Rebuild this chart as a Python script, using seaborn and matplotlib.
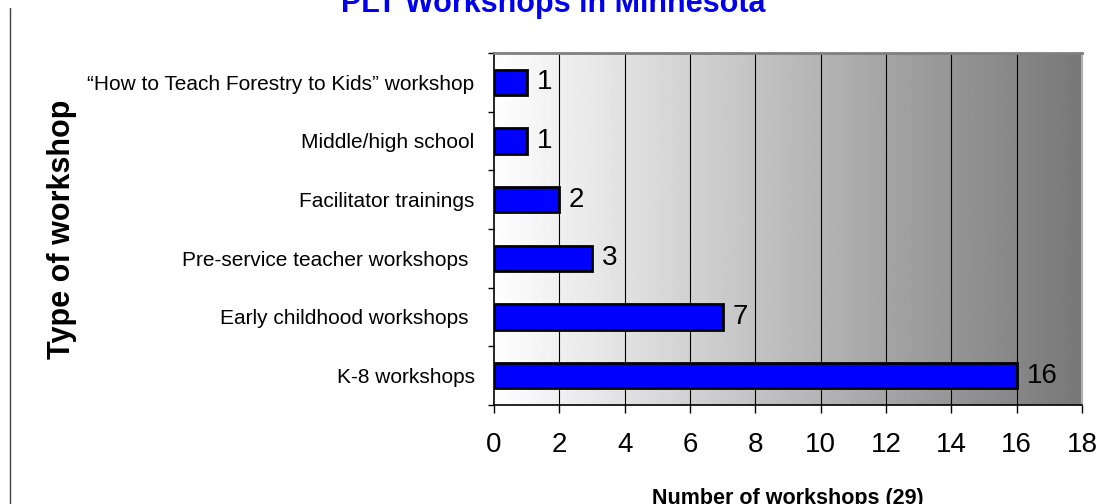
import numpy as np
import matplotlib
matplotlib.use("Agg")
import matplotlib.pyplot as plt
import seaborn as sns
from matplotlib.ticker import FixedLocator

# Données
categories = [
    "\u201cHow to Teach Forestry to Kids\u201d workshop",
    "Middle/high school",
    "Facilitator trainings",
    "Pre-service teacher workshops ",
    "Early childhood workshops ",
    "K-8 workshops",
]
workshops = [1, 1, 2, 3, 7, 16]
x_ticks = [0, 2, 4, 6, 8, 10, 12, 14, 16, 18]

title = "PLT Workshops in Minnesota"
x_label = "Number of workshops (29)"
y_label = "Type of workshop"

sns.set_style("white")
plt.rcParams["font.family"] = ["Liberation Sans", "DejaVu Sans"]
plt.rcParams["text.color"] = "black"
plt.rcParams["axes.labelcolor"] = "black"
plt.rcParams["xtick.color"] = "black"
plt.rcParams["ytick.color"] = "black"

fig = plt.figure(figsize=(11.07, 5.04), dpi=100)
ax = fig.add_axes([494 / 1107, 1 - 405 / 504, 588 / 1107, 352 / 504])

sns.barplot(x=workshops, y=categories, orient="h", color="#0000FF",
            saturation=1, width=0.43, edgecolor="black", linewidth=2.0,
            ax=ax, zorder=2)

# fond en dégradé blanc -> gris
grad = np.linspace(1.0, 0.47, 256)[None, :]
ax.imshow(grad, cmap="gray", vmin=0, vmax=1, aspect="auto",
          extent=[0, 18, 5.5, -0.5], zorder=0, interpolation="bilinear")
ax.set_xlim(0, 18)
ax.set_ylim(5.5, -0.5)

# quadrillage vertical
ax.set_xticks(x_ticks)
for v in x_ticks[1:-1]:
    ax.axvline(v, color="black", lw=0.8, zorder=1)

# étiquettes de valeur
ax.bar_label(ax.containers[0], labels=[str(v) for v in workshops],
             padding=7, fontsize=20, color="black")

# axes et graduations
ax.spines["left"].set_color("black")
ax.spines["bottom"].set_color("black")
ax.spines["left"].set_linewidth(1.2)
ax.spines["bottom"].set_linewidth(1.2)
ax.spines["top"].set_color("#808080")
ax.spines["top"].set_linewidth(2)
ax.spines["right"].set_color("#b0b0b0")
ax.spines["right"].set_linewidth(1.5)

ax.tick_params(axis="x", which="major", direction="out", length=5.8,
               width=1, color="black", labelsize=20, pad=14, bottom=True)
ax.tick_params(axis="y", which="major", length=0, pad=14, labelsize=15)
ax.yaxis.set_minor_locator(FixedLocator(np.arange(-0.5, 6, 1)))
ax.tick_params(axis="y", which="minor", direction="out", length=4.5,
               width=1, color="black", left=True)

ax.set_xlabel(x_label, fontsize=15.5, fontweight="bold")
ax.xaxis.set_label_coords(0.5, -0.236)
ax.set_ylabel(y_label, fontsize=22, fontweight="bold")
ax.yaxis.set_label_coords(-0.71, 0.5)

fig.text(0.5, 1 - 12 / 504, title, ha="center", va="baseline",
         fontsize=22, fontweight="bold", color="#0000EE")

# trait vertical à gauche (bord du cadre)
fig.add_artist(plt.Line2D([10 / 1107, 10 / 1107], [0, 1 - 8 / 504],
                          color="#404040", lw=1))

fig.savefig("out.png", dpi=100)
